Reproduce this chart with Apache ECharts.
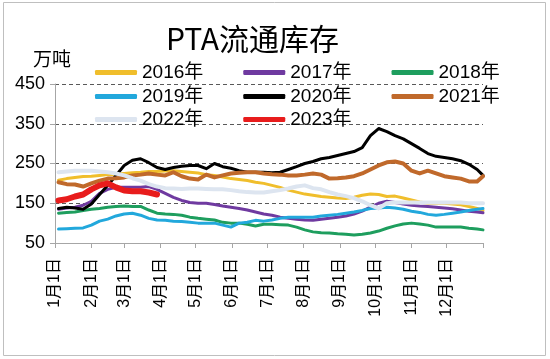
<!DOCTYPE html>
<html>
<head>
<meta charset="utf-8">
<script src="https://cdn.jsdelivr.net/npm/echarts@6/dist/echarts.min.js"></script>
<style>html,body{margin:0;padding:0;background:#fff}#c{width:550px;height:359px}</style>
</head>
<body>
<div id="c"></div>
<script>
var monthLabels = ['1月1日','2月1日','3月1日','4月1日','5月1日','6月1日','7月1日','8月1日','9月1日','10月1日','11月1日','12月1日'];
var monthDays = [0,31,59,90,120,151,181,212,243,273,304,334];
var yearEnd = 365;
var days = [3,10,17,24,31,38,45,52,59,66,73,80,87,94,101,108,115,122,129,136,143,150,157,164,171,178,185,192,199,206,213,220,227,234,241,248,255,262,269,276,283,290,297,304,311,318,325,332,339,346,353,360,365];
var seriesNames = ['2016年','2017年','2018年','2019年','2020年','2021年','2022年','2023年'];
var s2016 = [208,212,215,217,218,220,222,223,225,227,228,230,230,231,232,230,228,226,222,220,216,212,210,207,203,200,195,190,183,178,173,170,167,165,163,162,165,170,173,172,167,168,163,158,153,150,150,150,148,146,142,137,132];
var s2017 = [135,138,140,145,155,175,185,190,190,190,190,192,185,175,165,157,152,150,150,147,143,140,137,133,128,123,120,115,112,110,108,107,110,112,115,118,123,130,140,150,155,152,148,145,143,142,140,138,136,133,130,128,126];
var s2018 = [125,127,128,132,135,137,140,142,143,142,142,133,125,123,122,120,115,112,110,108,102,100,100,97,93,97,97,96,95,90,83,78,76,75,73,72,70,72,75,80,87,93,98,100,98,95,90,90,90,90,87,85,83];
var s2019 = [85,86,87,88,95,105,110,118,123,125,120,112,108,107,105,104,102,100,100,100,95,90,100,102,107,105,108,112,115,115,115,115,118,120,122,125,128,132,137,138,140,138,135,130,127,122,120,122,125,128,132,135,137];
var s2020 = [137,140,138,135,148,172,195,220,245,258,262,252,240,235,240,243,245,245,237,250,242,238,232,228,228,228,227,228,235,242,250,255,262,265,270,275,280,290,320,338,330,320,312,300,288,275,268,265,262,257,248,235,220];
var s2021 = [203,198,197,192,200,207,212,213,215,220,222,225,222,220,228,218,212,210,222,215,220,225,227,228,228,225,223,222,220,220,222,225,222,212,213,215,218,225,235,245,253,255,250,232,225,232,225,218,215,212,205,205,218];
var s2022 = [228,230,232,232,232,230,228,225,220,213,207,198,192,188,187,186,187,187,186,185,185,183,180,178,177,177,180,183,187,192,195,188,185,178,172,168,163,155,145,137,150,152,152,152,152,152,152,152,152,152,150,150,150];
var s2023 = [157,160,167,172,185,195,200,190,182,180,180,177,172];
var yTicks = [50,150,250,350,450];

var allValues = [s2016,s2017,s2018,s2019,s2020,s2021,s2022,s2023];
var colors = ['#F0BE2C','#6F3AA0','#1E9E5E','#22A8DC','#000000','#C0692B','#DDE5F0','#E81C1C'];
var widths = [3,3,3,3,3,4,4,6];

function pairs(vals){ return vals.map(function(v,i){ return [days[i], v]; }); }

var series = seriesNames.map(function(n,k){
  return {
    name: n, type: 'line', data: pairs(allValues[k]),
    showSymbol: false, symbol: 'none', smooth: false, animation: false,
    itemStyle: {color: colors[k]},
    lineStyle: {color: colors[k], width: widths[k], cap: 'round', join: 'round'}
  };
});

var fontLat = "'Liberation Sans','Noto Sans CJK SC',sans-serif";
function legendRow(items, top){
  return {
    data: items, top: top, left: 95, orient: 'horizontal',
    itemWidth: 42, itemHeight: 5, itemGap: 40, icon: 'roundRect', padding: 0,
    textStyle: {fontSize: 19, color: '#000', fontFamily: fontLat}
  };
}

var chart = echarts.init(document.getElementById('c'), null, {renderer: 'canvas'});
chart.setOption({
  backgroundColor: '#fff',
  animation: false,
  title: {
    text: 'PTA流通库存', left: 166, top: 24, padding: 0,
    textStyle: {fontSize: 30, fontWeight: 'normal', color: '#000', fontFamily: "'Noto Sans CJK SC',sans-serif"}
  },
  graphic: [
    {type: 'rect', shape: {x: 3.5, y: 2.5, width: 542, height: 353}, style: {fill: 'none', stroke: '#BFBFBF', lineWidth: 1}, silent: true},
    {type: 'text', left: 33, top: 49, style: {text: '万吨', fontSize: 19, fill: '#000', fontFamily: "'Noto Sans CJK SC',sans-serif"}}
  ],
  legend: [
    legendRow(seriesNames.slice(0,3), 63),
    legendRow(seriesNames.slice(3,6), 87),
    legendRow(seriesNames.slice(6,8), 110)
  ],
  grid: {left: 55, right: 67, top: 84, bottom: 116, containLabel: false},
  xAxis: {
    type: 'value', min: 0, max: yearEnd,
    axisLine: {show: true, lineStyle: {color: '#A6A6A6', width: 1}},
    axisTick: {show: true, length: 5, lineStyle: {color: '#A6A6A6'}, customValues: monthDays.concat([yearEnd])},
    axisLabel: {
      show: true, rotate: 90, margin: 15, fontSize: 16, color: '#000', fontFamily: fontLat,
      customValues: monthDays,
      formatter: function(v){ var i = monthDays.indexOf(v); return i >= 0 ? monthLabels[i] : ''; }
    },
    splitLine: {show: false}
  },
  yAxis: {
    type: 'value', min: 50, max: 450, interval: 100,
    axisLine: {show: true, lineStyle: {color: '#A6A6A6', width: 1}},
    axisTick: {show: true, length: 5, lineStyle: {color: '#A6A6A6'}},
    axisLabel: {fontSize: 18, color: '#000', margin: 10, fontFamily: fontLat},
    splitLine: {show: true, lineStyle: {color: '#595959', type: [4,3], width: 1}}
  },
  series: series
});
</script>
</body>
</html>
